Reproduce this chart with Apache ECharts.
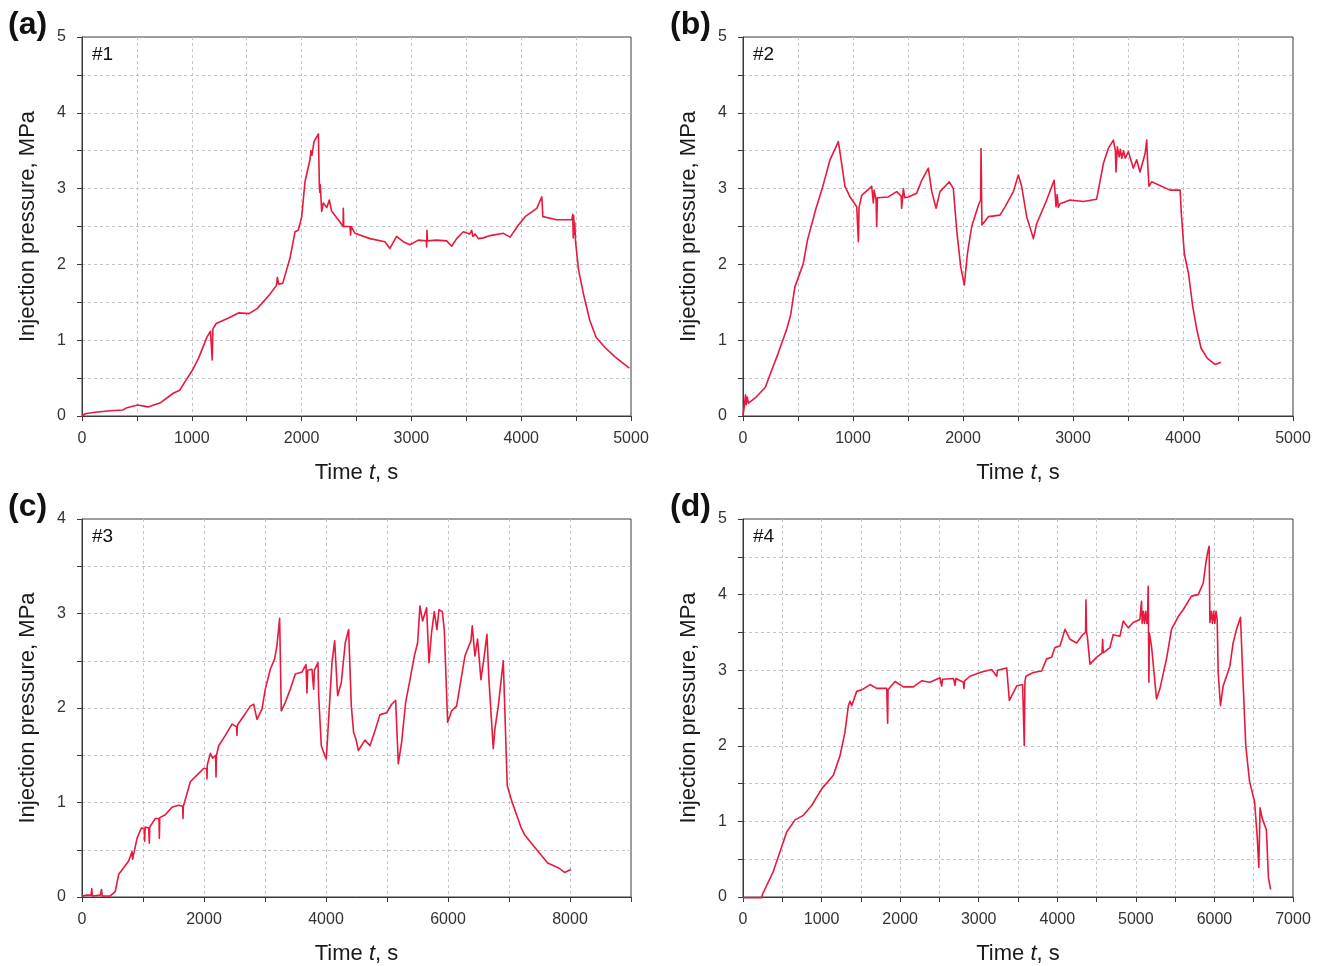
<!DOCTYPE html>
<html>
<head>
<meta charset="utf-8">
<script src="https://cdn.jsdelivr.net/npm/echarts@6.0.0/dist/echarts.min.js"></script>
<style>
html,body{margin:0;padding:0;background:#fff;}
#chart{width:1320px;height:966px;}
</style>
</head>
<body>
<div id="chart"></div>
<script>
// ---- Data (time s, pressure MPa) ----
var panelLetters = ['(a)', '(b)', '(c)', '(d)'];
var panelTags = ['#1', '#2', '#3', '#4'];
var xMaxes = [5000, 5000, 9000, 7000];
var xTickSteps = [500, 500, 1000, 500];
var xLabelSteps = [1000, 1000, 2000, 1000];
var yMaxes = [5, 5, 4, 5];

var well1 = [[0,0],[30,0.03],[120,0.05],[257,0.07],[372,0.08],[410,0.11],[506,0.145],[601,0.12],[716,0.175],[831,0.30],[889,0.34],[946,0.47],[1004,0.60],[1061,0.76],[1138,1.04],[1170,1.12],[1180,1.14],[1186,0.74],[1192,1.15],[1222,1.22],[1330,1.29],[1425,1.36],[1521,1.35],[1598,1.42],[1713,1.61],[1770,1.72],[1780,1.83],[1790,1.74],[1828,1.75],[1894,2.08],[1940,2.43],[1970,2.45],[2001,2.63],[2031,3.09],[2076,3.38],[2085,3.50],[2095,3.44],[2113,3.62],[2153,3.72],[2162,3.03],[2166,2.95],[2170,3.05],[2183,2.70],[2198,2.81],[2230,2.75],[2252,2.85],[2274,2.70],[2334,2.59],[2378,2.50],[2380,2.74],[2384,2.50],[2440,2.50],[2446,2.39],[2452,2.50],[2486,2.41],[2623,2.34],[2759,2.30],[2804,2.21],[2865,2.37],[2926,2.30],[2987,2.26],[3063,2.32],[3136,2.31],[3139,2.23],[3142,2.45],[3146,2.31],[3230,2.32],[3321,2.31],[3367,2.24],[3412,2.34],[3473,2.43],[3530,2.40],[3549,2.45],[3560,2.37],[3580,2.40],[3610,2.34],[3655,2.35],[3716,2.38],[3838,2.41],[3899,2.36],[3975,2.52],[4036,2.63],[4142,2.74],[4188,2.89],[4197,2.63],[4325,2.59],[4461,2.59],[4470,2.66],[4474,2.35],[4478,2.64],[4482,2.40],[4488,2.55],[4495,2.30],[4522,1.93],[4567,1.61],[4625,1.26],[4682,1.04],[4759,0.91],[4854,0.78],[4985,0.63]];

var well2 = [[0,0],[11,0.12],[23,0.28],[30,0.15],[38,0.25],[50,0.17],[120,0.25],[203,0.38],[260,0.6],[318,0.82],[394,1.13],[433,1.33],[471,1.70],[548,2.01],[586,2.32],[662,2.73],[720,3.0],[791,3.38],[867,3.62],[897,3.33],[927,3.03],[973,2.89],[1034,2.76],[1045,2.78],[1049,2.30],[1055,2.75],[1079,2.91],[1170,3.03],[1185,2.81],[1192,2.98],[1210,2.85],[1215,2.50],[1222,2.88],[1230,2.89],[1321,2.89],[1397,2.96],[1438,2.90],[1442,2.74],[1458,3.00],[1470,2.88],[1503,2.89],[1579,2.94],[1625,3.11],[1685,3.27],[1716,2.96],[1755,2.74],[1791,2.96],[1876,3.09],[1912,3.00],[1943,2.45],[1979,1.97],[2012,1.73],[2040,2.14],[2079,2.50],[2140,2.78],[2160,2.85],[2164,3.53],[2172,2.52],[2179,2.52],[2231,2.63],[2336,2.65],[2382,2.76],[2458,2.96],[2503,3.18],[2533,3.03],[2579,2.63],[2640,2.34],[2670,2.54],[2761,2.85],[2828,3.11],[2846,2.76],[2856,2.92],[2867,2.75],[2882,2.80],[2973,2.85],[3094,2.83],[3215,2.86],[3276,3.33],[3321,3.53],[3367,3.64],[3385,3.50],[3391,3.22],[3403,3.55],[3420,3.42],[3430,3.52],[3443,3.40],[3460,3.50],[3475,3.40],[3503,3.49],[3548,3.27],[3579,3.38],[3609,3.22],[3655,3.46],[3670,3.64],[3680,3.30],[3691,3.03],[3715,3.09],[3882,2.98],[3974,2.98],[3985,2.67],[4012,2.14],[4050,1.88],[4089,1.44],[4127,1.13],[4165,0.89],[4222,0.76],[4291,0.68],[4345,0.71]];

var well3 = [[0,0.01],[80,0.02],[150,0.02],[160,0.09],[170,0.01],[300,0.02],[320,0.08],[330,0.01],[460,0.01],[546,0.06],[601,0.24],[683,0.31],[765,0.38],[820,0.48],[830,0.40],[902,0.62],[973,0.73],[1020,0.72],[1027,0.59],[1035,0.74],[1093,0.73],[1100,0.72],[1104,0.57],[1110,0.74],[1202,0.83],[1262,0.83],[1268,0.62],[1275,0.84],[1366,0.87],[1475,0.95],[1585,0.97],[1650,0.96],[1656,0.83],[1662,0.96],[1694,0.95],[1776,1.22],[1885,1.29],[1994,1.36],[2045,1.36],[2049,1.25],[2055,1.40],[2104,1.52],[2142,1.47],[2190,1.50],[2197,1.27],[2205,1.50],[2240,1.60],[2350,1.71],[2459,1.83],[2535,1.80],[2541,1.71],[2548,1.82],[2677,1.94],[2759,2.02],[2814,2.04],[2869,1.88],[2951,1.99],[3005,2.20],[3087,2.41],[3158,2.52],[3196,2.66],[3240,2.95],[3267,1.97],[3333,2.06],[3415,2.20],[3497,2.36],[3606,2.38],[3672,2.46],[3688,2.16],[3700,2.40],[3770,2.41],[3797,2.20],[3810,2.40],[3868,2.48],[3880,2.13],[3923,1.60],[3961,1.53],[4005,1.46],[4043,1.88],[4098,2.48],[4142,2.71],[4191,2.13],[4251,2.27],[4316,2.69],[4371,2.83],[4415,2.02],[4453,1.74],[4491,1.67],[4530,1.55],[4639,1.66],[4721,1.60],[4803,1.76],[4885,1.93],[4994,1.95],[5076,2.04],[5142,2.08],[5185,1.41],[5240,1.64],[5306,2.06],[5377,2.30],[5448,2.55],[5502,2.69],[5540,3.08],[5584,2.92],[5649,3.06],[5688,2.48],[5731,2.80],[5775,3.02],[5819,2.83],[5852,3.04],[5906,3.02],[5939,2.83],[5994,1.85],[6059,1.97],[6141,2.02],[6277,2.55],[6376,2.71],[6398,2.87],[6441,2.55],[6485,2.73],[6540,2.30],[6594,2.55],[6638,2.78],[6671,2.30],[6742,1.57],[6769,1.78],[6824,2.02],[6906,2.50],[6933,2.48],[6971,1.18],[7042,1.02],[7124,0.87],[7195,0.74],[7255,0.66],[7428,0.52],[7634,0.36],[7807,0.31],[7910,0.26],[8014,0.29]];

var well4 = [[0,-0.01],[237,-0.01],[250,0.04],[386,0.34],[471,0.60],[556,0.86],[662,1.02],[768,1.08],[874,1.21],[1001,1.43],[1150,1.61],[1235,1.87],[1298,2.18],[1341,2.53],[1362,2.59],[1383,2.53],[1447,2.72],[1511,2.74],[1617,2.81],[1701,2.76],[1829,2.76],[1838,2.76],[1841,2.30],[1846,2.74],[1871,2.74],[1935,2.85],[2041,2.78],[2168,2.78],[2274,2.86],[2380,2.84],[2507,2.90],[2528,2.79],[2540,2.88],[2680,2.89],[2698,2.80],[2710,2.89],[2804,2.84],[2812,2.76],[2820,2.86],[2889,2.92],[3016,2.97],[3165,3.01],[3229,2.92],[3240,3.00],[3356,3.03],[3390,2.60],[3483,2.79],[3559,2.81],[3575,2.80],[3580,2.00],[3588,2.85],[3601,2.92],[3695,2.97],[3801,2.99],[3864,3.15],[3928,3.17],[3970,3.30],[4034,3.32],[4098,3.54],[4161,3.41],[4246,3.36],[4323,3.47],[4360,3.50],[4365,3.93],[4372,3.50],[4382,3.45],[4416,3.08],[4500,3.17],[4570,3.23],[4577,3.41],[4585,3.23],[4670,3.30],[4712,3.47],[4797,3.45],[4839,3.65],[4903,3.56],[4966,3.63],[5051,3.67],[5065,3.65],[5072,3.91],[5080,3.62],[5095,3.78],[5110,3.62],[5125,3.78],[5140,3.62],[5150,3.76],[5157,4.11],[5166,2.84],[5172,3.49],[5178,3.49],[5199,3.32],[5263,2.62],[5305,2.75],[5390,3.15],[5454,3.54],[5539,3.71],[5602,3.80],[5708,3.98],[5793,4.00],[5857,4.15],[5891,4.42],[5912,4.55],[5933,4.64],[5942,3.63],[5960,3.78],[5975,3.62],[5990,3.78],[6005,3.62],[6020,3.78],[6035,3.67],[6048,2.97],[6077,2.53],[6111,2.79],[6196,3.05],[6238,3.36],[6281,3.54],[6332,3.70],[6357,3.03],[6399,2.00],[6447,1.53],[6511,1.26],[6543,0.82],[6565,0.39],[6581,1.18],[6608,1.04],[6661,0.89],[6688,0.25],[6715,0.10]];

var wells = [well1, well2, well3, well4];

// ---- Layout ----
var gridBoxes = [
  {left: 82, top: 37, width: 549, height: 379},
  {left: 743, top: 37, width: 550, height: 379},
  {left: 82, top: 519, width: 549, height: 380},
  {left: 743, top: 519, width: 550, height: 380}
];
var FONT = '"Liberation Sans", Arial, sans-serif';
var LINE_COLOR = '#e8193c';
var AXIS_COLOR = '#3a3a3a';

var grids = [], xAxes = [], yAxes = [], series = [], graphics = [];
for (var i = 0; i < 4; i++) {
  var g = gridBoxes[i];
  grids.push({left: g.left, top: g.top, width: g.width, height: g.height,
    show: true, borderColor: AXIS_COLOR, borderWidth: 1, backgroundColor: 'transparent', containLabel: false});
  (function (step) {
    xAxes.push({
      type: 'value', gridIndex: i, min: 0, max: xMaxes[i], interval: xTickSteps[i],
      name: 'Time {i|t}, s', nameLocation: 'middle', nameGap: 46,
      nameTextStyle: {fontFamily: FONT, fontSize: 22, color: '#1a1a1a',
        rich: {i: {fontStyle: 'italic', fontFamily: FONT, fontSize: 22, color: '#1a1a1a'}}},
      axisLine: {show: true, lineStyle: {color: AXIS_COLOR, width: 1}},
      axisTick: {show: true, inside: false, length: 5, lineStyle: {color: AXIS_COLOR}},
      axisLabel: {show: true, margin: 15, fontFamily: FONT, fontSize: 16, color: '#333',
        formatter: function (v) { return (v % step === 0) ? String(v) : ''; }},
      splitLine: {show: true, showMinLine: false, showMaxLine: false,
        lineStyle: {color: '#c4c4c4', type: [3, 3], width: 1}}
    });
  })(xLabelSteps[i]);
  yAxes.push({
    type: 'value', gridIndex: i, min: 0, max: yMaxes[i], interval: 0.5,
    name: 'Injection pressure, MPa', nameLocation: 'middle', nameGap: 43, nameRotate: 90,
    nameTextStyle: {fontFamily: FONT, fontSize: 22, color: '#1a1a1a'},
    axisLine: {show: true, lineStyle: {color: AXIS_COLOR, width: 1}},
    axisTick: {show: true, inside: false, length: 5, lineStyle: {color: AXIS_COLOR}},
    axisLabel: {show: true, margin: 16, fontFamily: FONT, fontSize: 16, color: '#333',
      formatter: function (v) { return (Math.abs(v - Math.round(v)) < 1e-9) ? String(Math.round(v)) : ''; }},
    splitLine: {show: true, showMinLine: false, showMaxLine: false,
      lineStyle: {color: '#c4c4c4', type: [3, 3], width: 1}}
  });
  series.push({
    type: 'line', xAxisIndex: i, yAxisIndex: i, data: wells[i],
    showSymbol: false, symbol: 'none', smooth: false, animation: false, clip: false,
    lineStyle: {color: LINE_COLOR, width: 1.6, join: 'round'}, itemStyle: {color: LINE_COLOR}
  });
  graphics.push({
    type: 'text', left: (i % 2 === 0) ? 8 : 670, top: (i < 2) ? 9 : 491,
    style: {text: panelLetters[i], font: 'bold 32px ' + FONT, fill: '#111'}
  });
  graphics.push({
    type: 'text', left: g.left + 10, top: g.top + 8,
    style: {text: panelTags[i], font: '19px ' + FONT, fill: '#111'}
  });
}

var chart = echarts.init(document.getElementById('chart'), null, {renderer: 'canvas'});
chart.setOption({
  animation: false,
  backgroundColor: '#fff',
  grid: grids, xAxis: xAxes, yAxis: yAxes, series: series, graphic: graphics
});
</script>
</body>
</html>
